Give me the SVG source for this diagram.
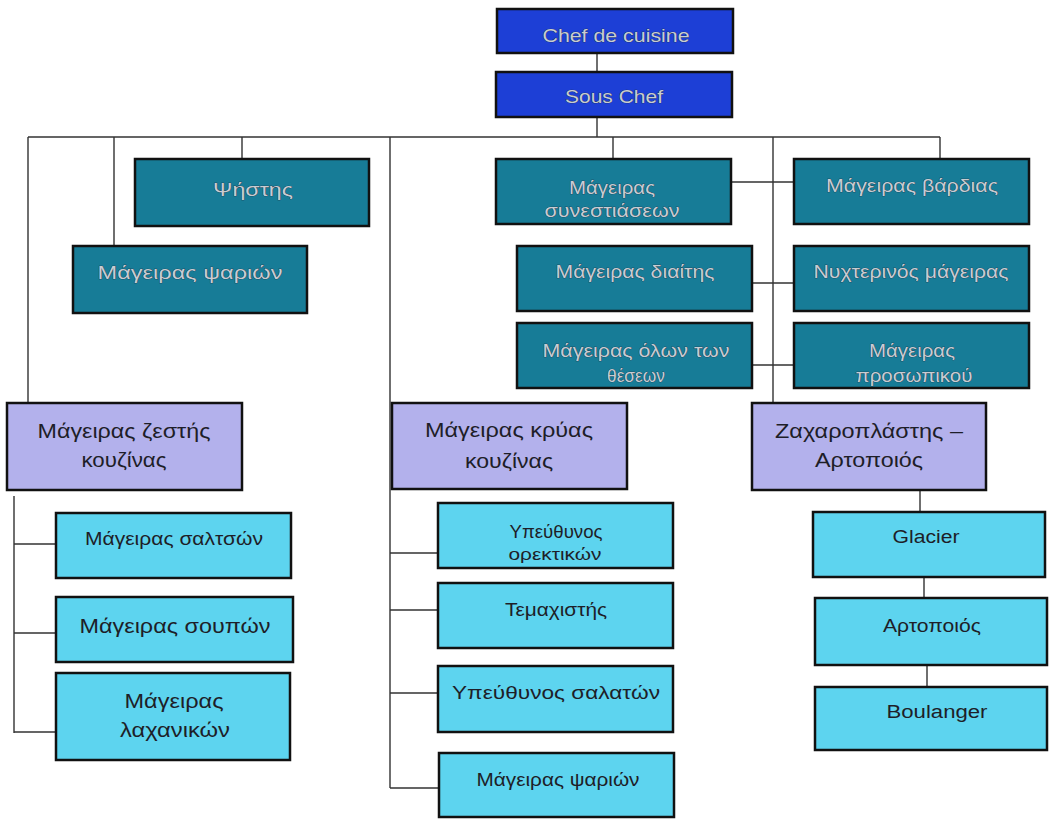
<svg xmlns="http://www.w3.org/2000/svg" width="1053" height="819" viewBox="0 0 1053 819">
<style>
.box{stroke:#111;stroke-width:2.5}
.blue{fill:#1d3fd6}
.teal{fill:#177c97}
.lav{fill:#b3b1ec}
.cyan{fill:#5dd4ef}
.t{font-family:"Liberation Sans",Arial,sans-serif;text-anchor:middle}
.dk{fill:#c8ccd2;stroke:#1b2d3c;stroke-width:0.6;paint-order:stroke}
.lt{fill:#1e1e28}
.ln{stroke:#333;stroke-width:1.4;fill:none}
</style>
<rect width="1053" height="819" fill="#ffffff"/>
<g id="connectors" class="ln">
<path d="M597 53V72M597 117V137M28 137H940"/>
<path d="M28 137V403M114 137V246M242 137V159M390 137V788M613 137V159M773 137V403M940 137V159"/>
<path d="M731 182H794M752 283H794M752 365H794"/>
<path d="M14 496V733M14 544H56M14 633H56M14 732H56"/>
<path d="M390 553H438M390 610H438M390 693H438M390 788H438"/>
<path d="M920 490V512M924 577V598M927 665V687"/>
</g>
<g id="n-chef"><rect class="box blue" x="497" y="9" width="236" height="44"/><text class="t dk" x="616" y="42" font-size="19" textLength="147" lengthAdjust="spacingAndGlyphs">Chef de cuisine</text></g>
<g id="n-sous"><rect class="box blue" x="496" y="72" width="236" height="45"/><text class="t dk" x="614" y="103" font-size="19" textLength="98" lengthAdjust="spacingAndGlyphs">Sous Chef</text></g>
<g id="n-psistis"><rect class="box teal" x="135" y="159" width="234" height="67"/><text class="t dk" x="253" y="196" font-size="19" textLength="80" lengthAdjust="spacingAndGlyphs">Ψήστης</text></g>
<g id="n-psarion1"><rect class="box teal" x="73" y="246" width="234" height="67"/><text class="t dk" x="190" y="279" font-size="19" textLength="185" lengthAdjust="spacingAndGlyphs">Μάγειρας ψαριών</text></g>
<g id="n-synest"><rect class="box teal" x="496" y="159" width="235" height="65"/><text class="t dk" x="612" y="194" font-size="19" textLength="86" lengthAdjust="spacingAndGlyphs">Μάγειρας</text><text class="t dk" x="612" y="217" font-size="19" textLength="135" lengthAdjust="spacingAndGlyphs">συνεστιάσεων</text></g>
<g id="n-vardias"><rect class="box teal" x="794" y="159" width="235" height="65"/><text class="t dk" x="912" y="192" font-size="19" textLength="172" lengthAdjust="spacingAndGlyphs">Μάγειρας βάρδιας</text></g>
<g id="n-diaitis"><rect class="box teal" x="517" y="246" width="235" height="65"/><text class="t dk" x="635" y="278" font-size="19" textLength="159" lengthAdjust="spacingAndGlyphs">Μάγειρας διαίτης</text></g>
<g id="n-nyxterinos"><rect class="box teal" x="794" y="246" width="235" height="65"/><text class="t dk" x="911" y="278" font-size="19" textLength="195" lengthAdjust="spacingAndGlyphs">Νυχτερινός μάγειρας</text></g>
<g id="n-olon"><rect class="box teal" x="517" y="323" width="235" height="65"/><text class="t dk" x="636" y="357" font-size="19" textLength="187" lengthAdjust="spacingAndGlyphs">Μάγειρας όλων των</text><text class="t dk" x="636" y="382" font-size="19" textLength="58" lengthAdjust="spacingAndGlyphs">θέσεων</text></g>
<g id="n-prosopikou"><rect class="box teal" x="794" y="323" width="235" height="65"/><text class="t dk" x="912" y="357" font-size="19" textLength="86" lengthAdjust="spacingAndGlyphs">Μάγειρας</text><text class="t dk" x="914" y="382" font-size="19" textLength="117" lengthAdjust="spacingAndGlyphs">προσωπικού</text></g>
<g id="n-zestis"><rect class="box lav" x="7" y="403" width="235" height="87"/><text class="t lt" x="124" y="438" font-size="21" textLength="173" lengthAdjust="spacingAndGlyphs">Μάγειρας ζεστής</text><text class="t lt" x="124" y="467" font-size="21" textLength="85" lengthAdjust="spacingAndGlyphs">κουζίνας</text></g>
<g id="n-kryas"><rect class="box lav" x="392" y="403" width="235" height="86"/><text class="t lt" x="509" y="437" font-size="21" textLength="168" lengthAdjust="spacingAndGlyphs">Μάγειρας κρύας</text><text class="t lt" x="509" y="468" font-size="21" textLength="88" lengthAdjust="spacingAndGlyphs">κουζίνας</text></g>
<g id="n-zaxaro"><rect class="box lav" x="752" y="403" width="234" height="87"/><text class="t lt" x="869" y="438" font-size="21" textLength="188" lengthAdjust="spacingAndGlyphs">Ζαχαροπλάστης –</text><text class="t lt" x="869" y="467" font-size="21" textLength="108" lengthAdjust="spacingAndGlyphs">Αρτοποιός</text></g>
<g id="n-saltson"><rect class="box cyan" x="56" y="513" width="235" height="65"/><text class="t lt" x="174" y="545" font-size="19" textLength="178" lengthAdjust="spacingAndGlyphs">Μάγειρας σαλτσών</text></g>
<g id="n-soupon"><rect class="box cyan" x="56" y="597" width="237" height="65"/><text class="t lt" x="175" y="633" font-size="21" textLength="191" lengthAdjust="spacingAndGlyphs">Μάγειρας σουπών</text></g>
<g id="n-laxanikon"><rect class="box cyan" x="56" y="673" width="234" height="87"/><text class="t lt" x="174" y="708" font-size="21" textLength="99" lengthAdjust="spacingAndGlyphs">Μάγειρας</text><text class="t lt" x="175" y="737" font-size="21" textLength="110" lengthAdjust="spacingAndGlyphs">λαχανικών</text></g>
<g id="n-orektikon"><rect class="box cyan" x="438" y="503" width="235" height="65"/><text class="t lt" x="556" y="538" font-size="19" textLength="93" lengthAdjust="spacingAndGlyphs">Υπεύθυνος</text><text class="t lt" x="555" y="560" font-size="17" textLength="93" lengthAdjust="spacingAndGlyphs">ορεκτικών</text></g>
<g id="n-temaxistis"><rect class="box cyan" x="438" y="583" width="235" height="65"/><text class="t lt" x="556" y="616" font-size="19" textLength="102" lengthAdjust="spacingAndGlyphs">Τεμαχιστής</text></g>
<g id="n-salaton"><rect class="box cyan" x="438" y="666" width="235" height="66"/><text class="t lt" x="556" y="699" font-size="19" textLength="208" lengthAdjust="spacingAndGlyphs">Υπεύθυνος σαλατών</text></g>
<g id="n-psarion2"><rect class="box cyan" x="439" y="753" width="235" height="64"/><text class="t lt" x="558" y="786" font-size="19" textLength="163" lengthAdjust="spacingAndGlyphs">Μάγειρας ψαριών</text></g>
<g id="n-glacier"><rect class="box cyan" x="813" y="512" width="232" height="65"/><text class="t lt" x="926" y="543" font-size="18" textLength="67" lengthAdjust="spacingAndGlyphs">Glacier</text></g>
<g id="n-artopoios"><rect class="box cyan" x="815" y="598" width="232" height="67"/><text class="t lt" x="932" y="632" font-size="18" textLength="98" lengthAdjust="spacingAndGlyphs">Αρτοποιός</text></g>
<g id="n-boulanger"><rect class="box cyan" x="815" y="687" width="232" height="63"/><text class="t lt" x="937" y="718" font-size="18" textLength="101" lengthAdjust="spacingAndGlyphs">Boulanger</text></g>
</svg>
